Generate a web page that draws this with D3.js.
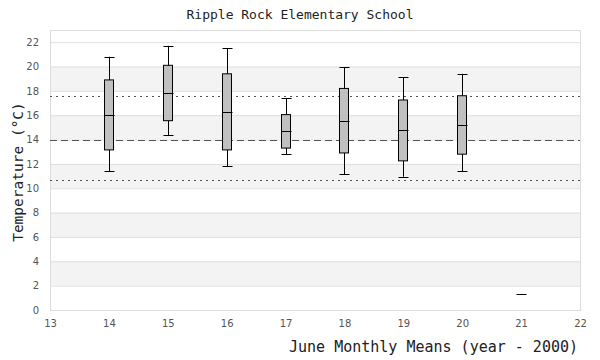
<!DOCTYPE html>
<html>
<head>
<meta charset="utf-8">
<script src="https://cdn.jsdelivr.net/npm/d3@7"></script>
<style>
  body { margin: 0; background: #fff; }
  text { font-family: "DejaVu Sans", sans-serif; }
</style>
</head>
<body>
<svg id="canvas"></svg>
<script>
// june monthly means, one box per year (year - 2000)
let years = [14, 15, 16, 17, 18, 19, 20, 21];
let lows = [11.4, 14.35, 11.8, 12.8, 11.15, 10.95, 11.4, 1.35];
let q1s = [13.15, 15.55, 13.15, 13.3, 12.9, 12.25, 12.8, 1.35];
let medians = [16.0, 17.85, 16.3, 14.7, 15.55, 14.8, 15.2, 1.35];
let q3s = [18.9, 20.1, 19.4, 16.05, 18.2, 17.25, 17.6, 1.35];
let highs = [20.8, 21.7, 21.5, 17.4, 19.95, 19.1, 19.4, 1.35];

let refMean = 13.97;
let refUpper = 17.55;
let refLower = 10.65;

let xTicks = [13, 14, 15, 16, 17, 18, 19, 20, 21, 22];
let yTicks = [0, 2, 4, 6, 8, 10, 12, 14, 16, 18, 20, 22];

let width = 600;
let height = 360;
let padLeft = 50, padRight = 580, padTop = 30, padBottom = 310;
let boxW = 9;

let canvas = d3.select("#canvas")
  .attr("width", width)
  .attr("height", height);

let xScale = d3.scaleLinear().domain([13, 22]).range([padLeft, padRight]);
let yScale = d3.scaleLinear().domain([0, 23]).range([padBottom, padTop]);

let values = years.map((y, i) => ({
  year: y, low: lows[i], q1: q1s[i], median: medians[i], q3: q3s[i], high: highs[i]
}));

// alternating bands
let bands = d3.range(0, 22, 2).map(v => ({ from: v, to: v + 2 }));
canvas.append("g").selectAll("rect")
  .data(bands.filter((d, i) => i % 2 == 1))
  .enter()
  .append("rect")
  .attr("x", padLeft)
  .attr("width", padRight - padLeft)
  .attr("y", d => yScale(d.to))
  .attr("height", d => yScale(d.from) - yScale(d.to))
  .attr("fill", "#f3f3f3");

// y axis with gridlines
let yAxis = d3.axisLeft(yScale)
  .tickValues(yTicks)
  .tickSize(-(padRight - padLeft))
  .tickPadding(11);
let yg = canvas.append("g")
  .attr("transform", "translate(" + padLeft + ",0)")
  .call(yAxis);
yg.select(".domain").remove();
yg.selectAll(".tick line").attr("stroke", "#e0e0e0");
yg.selectAll(".tick text").attr("fill", "#555").style("font-size", "10px");

// x axis labels only
let xAxis = d3.axisBottom(xScale)
  .tickValues(xTicks)
  .tickSize(0)
  .tickPadding(10);
let xg = canvas.append("g")
  .attr("transform", "translate(0," + padBottom + ")")
  .call(xAxis);
xg.select(".domain").remove();
xg.selectAll(".tick text").attr("fill", "#555").style("font-size", "10px");

// plot frame
canvas.append("rect")
  .attr("x", padLeft + 0.5)
  .attr("y", padTop + 0.5)
  .attr("width", padRight - padLeft)
  .attr("height", padBottom - padTop)
  .attr("fill", "none")
  .attr("stroke", "#dcdcdc");

// reference lines
let refs = [
  { v: refMean, dash: "7,4" },
  { v: refUpper, dash: "2,4" },
  { v: refLower, dash: "2,4" }
];
canvas.append("g").selectAll("line")
  .data(refs)
  .enter()
  .append("line")
  .attr("x1", padLeft)
  .attr("x2", padRight)
  .attr("y1", d => Math.round(yScale(d.v)) + 0.5)
  .attr("y2", d => Math.round(yScale(d.v)) + 0.5)
  .attr("stroke", "#555")
  .attr("stroke-dasharray", d => d.dash);

// boxes
let boxes = canvas.append("g").selectAll("g")
  .data(values)
  .enter()
  .append("g")
  .attr("transform", d => "translate(" + Math.round(xScale(d.year)) + ",0)");

boxes.append("line")
  .attr("x1", 0.5).attr("x2", 0.5)
  .attr("y1", d => yScale(d.high))
  .attr("y2", d => yScale(d.low))
  .attr("stroke", "#000");

boxes.filter(d => d.high != d.low).append("line")
  .attr("x1", -boxW / 2).attr("x2", boxW / 2 + 1)
  .attr("y1", d => Math.round(yScale(d.high)) + 0.5)
  .attr("y2", d => Math.round(yScale(d.high)) + 0.5)
  .attr("stroke", "#000");

boxes.filter(d => d.high != d.low).append("line")
  .attr("x1", -boxW / 2).attr("x2", boxW / 2 + 1)
  .attr("y1", d => Math.round(yScale(d.low)) + 0.5)
  .attr("y2", d => Math.round(yScale(d.low)) + 0.5)
  .attr("stroke", "#000");

boxes.append("rect")
  .attr("x", -boxW / 2)
  .attr("width", boxW)
  .attr("y", d => yScale(d.q3))
  .attr("height", d => yScale(d.q1) - yScale(d.q3))
  .attr("fill", "#c0c0c0")
  .attr("stroke", "#000");

boxes.append("line")
  .attr("x1", -boxW / 2).attr("x2", boxW / 2 + 1)
  .attr("y1", d => Math.round(yScale(d.median)) + 0.5)
  .attr("y2", d => Math.round(yScale(d.median)) + 0.5)
  .attr("stroke", "#000");

// titles
canvas.append("text")
  .attr("x", 300)
  .attr("y", 19)
  .attr("text-anchor", "middle")
  .attr("fill", "#222")
  .style("font-family", "'DejaVu Sans Mono', monospace")
  .style("font-size", "13px")
  .text("Ripple Rock Elementary School");

canvas.append("text")
  .attr("x", padRight - 2)
  .attr("y", 352)
  .attr("text-anchor", "end")
  .attr("fill", "#222")
  .style("font-family", "'DejaVu Sans Mono', monospace")
  .style("font-size", "15px")
  .text("June Monthly Means (year - 2000)");

canvas.append("text")
  .attr("transform", "translate(23,172) rotate(-90)")
  .attr("text-anchor", "middle")
  .attr("fill", "#222")
  .style("font-family", "'DejaVu Sans Mono', monospace")
  .style("font-size", "14.5px")
  .text("Temperature (°C)");
</script>
</body>
</html>
